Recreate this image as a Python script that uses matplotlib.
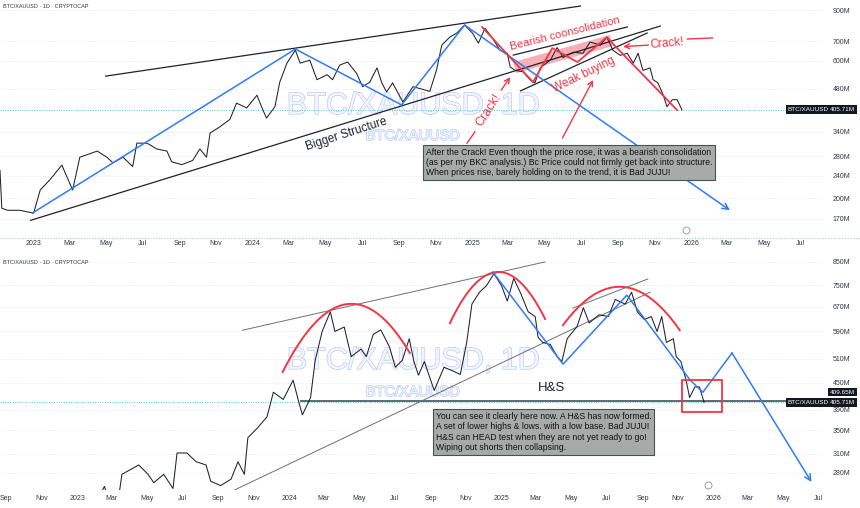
import matplotlib
matplotlib.use("Agg")
import matplotlib.pyplot as plt
import matplotlib.dates as mdates
import matplotlib.patheffects as pe
from matplotlib.patches import Polygon, Rectangle
from matplotlib.lines import Line2D
from matplotlib.ticker import FixedLocator, FixedFormatter, NullLocator
import numpy as np
import pandas as pd

# ---------------- data ----------------
dates = ["2022-11-06", "2022-11-09", "2022-11-19", "2022-12-09", "2023-01-01", "2023-01-12",
         "2023-01-28", "2023-02-17", "2023-03-07", "2023-03-19", "2023-04-17", "2023-05-03",
         "2023-05-13", "2023-05-30", "2023-06-15", "2023-06-22", "2023-07-09", "2023-07-25",
         "2023-08-11", "2023-08-19", "2023-09-05", "2023-09-23", "2023-10-05", "2023-10-16",
         "2023-10-22", "2023-11-07", "2023-11-24", "2023-12-05", "2023-12-22", "2024-01-08",
         "2024-01-18", "2024-01-24", "2024-02-07", "2024-02-15", "2024-02-27", "2024-03-12",
         "2024-03-20", "2024-04-05", "2024-04-17", "2024-05-04", "2024-05-13", "2024-05-25",
         "2024-06-07", "2024-06-22", "2024-07-02", "2024-07-14", "2024-07-26", "2024-08-03",
         "2024-08-11", "2024-08-21", "2024-09-07", "2024-09-24", "2024-10-10", "2024-10-22",
         "2024-11-02", "2024-11-11", "2024-11-24", "2024-12-06", "2024-12-19", "2025-01-01",
         "2025-01-11", "2025-01-22", "2025-02-03", "2025-02-16", "2025-02-28", "2025-03-05",
         "2025-03-13", "2025-03-26", "2025-04-07", "2025-04-15", "2025-04-24", "2025-05-11",
         "2025-05-22", "2025-06-01", "2025-06-18", "2025-07-04", "2025-07-16", "2025-08-02",
         "2025-08-13", "2025-08-23", "2025-09-04", "2025-09-16", "2025-09-26", "2025-10-04",
         "2025-10-12", "2025-10-24", "2025-10-29", "2025-11-06", "2025-11-15", "2025-11-21",
         "2025-11-30", "2025-12-08", "2025-12-16"]
prices = [250, 185, 182, 182, 178, 214, 232, 261, 214, 278, 292, 278, 266, 278, 258, 311,
          311, 297, 292, 268, 262, 271, 297, 278, 337, 354, 376, 428, 412, 456, 405, 380,
          416, 506, 589, 653, 589, 603, 516, 537, 516, 580, 594, 543, 488, 506, 567, 503,
          468, 503, 432, 488, 478, 470, 556, 680, 724, 749, 798, 749, 691, 778, 720, 653,
          637, 571, 556, 550, 516, 503, 567, 604, 667, 616, 643, 637, 697, 680, 724, 653,
          627, 637, 589, 637, 556, 567, 516, 503, 456, 416, 440, 440, 405.71]
last_price = 405.71
neckline = 409.65

top_yticks = [170, 200, 240, 280, 340, 480, 600, 700, 900]
bot_yticks = [280, 310, 350, 390, 450, 510, 590, 670, 750, 850]
top_xticks = pd.date_range("2023-01-01", "2026-07-01", freq="2MS")
bot_xticks = pd.date_range("2022-09-01", "2026-07-01", freq="2MS")

symbol = "BTC/XAUUSD"
title = "BTC/XAUUSD · 1D · CRYPTOCAP"
note_top = ("After the Crack! Even though the price rose, it was a bearish consolidation\n"
            "(as per my BKC analysis.) Bc Price could not firmly get back into structure.\n"
            "When prices rise, barely holding on to the trend, it is Bad JUJU!")
note_bot = ("You can see it clearly here now. A H&S has now formed.\n"
            "A set of lower highs & lows. with a low base. Bad JUJU!\n"
            "H&S can HEAD test when they are not yet ready to go!\n"
            "Wiping out shorts then collapsing.")

# ---------------- style ----------------
plt.rcParams["font.family"] = ["Liberation Sans Narrow", "Liberation Sans", "DejaVu Sans"]
RED = "#f23645"
BLUE = "#2f7cf6"
INK = "#1e222d"
WM = "#bccaf6"
W, H = 860, 508


def D(s):
    return mdates.date2num(pd.Timestamp(s))


def tick_label(d):
    return str(d.year) if d.month == 1 else d.strftime("%b")


fig = plt.figure(figsize=(8.6, 5.08), dpi=100)
fig.patch.set_facecolor("white")
ax1 = fig.add_axes([0, (H - 238) / H, 826 / W, 238 / H])
ax2 = fig.add_axes([0, (H - 490) / H, 826 / W, 236 / H])


def style(ax, xlim, ylim, yticks, xticks, xpad):
    ax.set_yscale("log")
    ax.set_xlim(D(xlim[0]), D(xlim[1]))
    ax.set_ylim(*ylim)
    ax.yaxis.tick_right()
    ax.yaxis.set_major_locator(FixedLocator(yticks))
    ax.yaxis.set_major_formatter(FixedFormatter([f"{v}M" for v in yticks]))
    ax.yaxis.set_minor_locator(NullLocator())
    ax.set_xticks([mdates.date2num(d) for d in xticks])
    ax.set_xticklabels([tick_label(d) for d in xticks])
    ax.tick_params(axis="both", length=0, labelsize=5, labelcolor="#333844")
    ax.tick_params(axis="y", pad=5)
    ax.tick_params(axis="x", pad=xpad)
    for s in ax.spines.values():
        s.set_visible(False)
    ax.grid(axis="y", color="#dde2ea", lw=0.6, ls=(0, (1, 2)))
    ax.set_facecolor("white")


style(ax1, ("2022-11-06", "2026-08-13"), (145.9, 974.8), top_yticks, top_xticks, 1.5)
style(ax2, ("2022-08-21", "2026-07-14"), (256, 885), bot_yticks, bot_xticks, 3.5)

xd = [D(d) for d in dates]


def line(ax, pts, **kw):
    ax.plot([D(p[0]) for p in pts], [p[1] for p in pts], **kw)


def arrow(ax, tail, head, color, lw=1.0, ms=9):
    ax.annotate("", xy=(D(head[0]), head[1]), xytext=(D(tail[0]), tail[1]),
                arrowprops=dict(arrowstyle="->", color=color, lw=lw, mutation_scale=ms,
                                shrinkA=0, shrinkB=0), annotation_clip=False)


def arc(ax, pts, **kw):
    x = np.array([D(p[0]) for p in pts])
    y = np.log([p[1] for p in pts])
    c = np.polyfit(x, y, 2)
    xs = np.linspace(x[0], x[-1], 80)
    ax.plot(xs, np.exp(np.polyval(c, xs)), **kw)


def watermark(ax, yb, ys):
    stroke = [pe.withStroke(linewidth=1.0, foreground=WM)]
    ax.text(0.5, yb, f"{symbol}, 1D", transform=ax.transAxes, ha="center", va="center",
            fontsize=22, color="#f3f5fd", path_effects=stroke, zorder=0)
    ax.text(0.5, ys, symbol, transform=ax.transAxes, ha="center", va="center",
            fontsize=10.5, color="#f3f5fd", path_effects=stroke, zorder=0)


def tag(ax, yfrac, text, x0, fc="#131722"):
    ax.text(x0, yfrac, text, transform=ax.transAxes, ha="left", va="center", fontsize=4.6,
            color="white", bbox=dict(boxstyle="square,pad=0.3", fc=fc, ec="none"),
            clip_on=False, zorder=20)


# ================= TOP PANEL =================
watermark(ax1, 0.555, 0.429)
ax1.axhline(last_price, color="#56c4d6", lw=0.7, ls=(0, (1, 1.5)), zorder=1)

# pink consolidation band
band = [("2025-03-10", 594), ("2025-08-18", 737), ("2025-08-23", 675), ("2025-03-15", 544)]
ax1.add_patch(Polygon([(D(d), v) for d, v in band], closed=True, fc="#f6a0a8",
                      ec="none", alpha=0.85, zorder=1))

# trend lines
line(ax1, [("2023-05-01", 531), ("2025-06-30", 929)], color=INK, lw=0.9, zorder=2)
line(ax1, [("2022-12-27", 168), ("2025-11-10", 792)], color=INK, lw=0.9, zorder=2)
line(ax1, [("2025-03-10", 628), ("2025-09-16", 786)], color=INK, lw=0.9, zorder=2)
line(ax1, [("2025-03-22", 472), ("2025-10-19", 749)], color=INK, lw=0.9, zorder=2)

# price
ax1.plot(xd, prices, color=INK, lw=0.75, zorder=3)

# blue zig-zag
line(ax1, [("2022-12-30", 178), ("2024-03-12", 659), ("2024-09-05", 422), ("2024-12-19", 798)],
     color=BLUE, lw=1.1, zorder=4)
arrow(ax1, ("2024-12-19", 798), ("2026-03-06", 182), BLUE, lw=1.1, ms=11)

# red path
line(ax1, [("2025-01-17", 786), ("2025-04-12", 506), ("2025-05-14", 664), ("2025-06-25", 594),
           ("2025-08-13", 725), ("2025-08-22", 691), ("2025-12-08", 405)],
     color=RED, lw=1.3, zorder=4)

ax1.text(D("2025-06-04"), 749, "Bearish coonsolidation", rotation=14, rotation_mode="anchor",
         ha="center", va="center", color=RED, fontsize=8, zorder=6)
ax1.text(D("2025-07-06"), 535, "Weak buying", rotation=26, rotation_mode="anchor",
         ha="center", va="center", color=RED, fontsize=8.5, zorder=6)
ax1.text(D("2025-11-21"), 691, "Crack!", rotation=5, rotation_mode="anchor",
         ha="center", va="center", color=RED, fontsize=8.5, zorder=6)
arrow(ax1, ("2025-10-21", 680), ("2025-09-09", 672), RED, lw=1.0)
line(ax1, [("2025-12-25", 714), ("2026-02-05", 720)], color=RED, lw=1.0)

line(ax1, [("2024-12-23", 311), ("2025-01-05", 340)], color=RED, lw=1.0)
ax1.text(D("2025-01-28"), 405, "Crack!", rotation=57, rotation_mode="anchor",
         ha="center", va="center", color=RED, fontsize=9, zorder=6)
arrow(ax1, ("2025-02-18", 475), ("2025-03-05", 527), RED, lw=1.0)
arrow(ax1, ("2025-05-31", 324), ("2025-07-21", 515), RED, lw=1.0)

ax1.text(D("2024-06-05"), 334, "Bigger Structure", rotation=18, rotation_mode="anchor",
         ha="center", va="center", color=INK, fontsize=8.5, zorder=6)

ax1.text(426 / 826, (238 - 148) / 238, note_top, transform=ax1.transAxes, ha="left", va="top",
         fontsize=6.2, linespacing=1.15, color="#111111", zorder=8,
         bbox=dict(boxstyle="square,pad=0.3", fc="#a6abaa", ec="#4a4f52", lw=0.8))

tag(ax1, (238 - 109.5) / 238, symbol, 788 / 826)
tag(ax1, (238 - 109.5) / 238, f"{last_price}M", 830 / 826)
ax1.plot([686 / 826], [(238 - 230) / 238], marker="o", ms=5, mfc="white", mec="#9aa0aa",
         mew=0.7, transform=ax1.transAxes, clip_on=False, zorder=9)

# ================= BOTTOM PANEL =================
watermark(ax2, 0.547, 0.415)
ax2.axhline(last_price, color="#56c4d6", lw=0.7, ls=(0, (1, 1.5)), zorder=1)
ax2.hlines(neckline, D("2024-01-19"), ax2.get_xlim()[1], color="#3a3f47", lw=1.1, zorder=2)

line(ax2, [("2023-10-13", 593), ("2025-03-17", 849)], color="#6b7079", lw=0.7, zorder=2)
line(ax2, [("2023-09-29", 256), ("2025-09-14", 724)], color="#6b7079", lw=0.7, zorder=2)
line(ax2, [("2025-05-04", 666), ("2025-09-10", 776)], color="#6b7079", lw=0.7, zorder=2)

ax2.plot(xd, prices, color=INK, lw=0.75, zorder=3)

arc(ax2, [("2023-12-21", 476), ("2024-03-16", 663), ("2024-07-27", 526)], color=RED, lw=1.4, zorder=4)
arc(ax2, [("2024-10-04", 615), ("2024-12-24", 805), ("2025-03-17", 629)], color=RED, lw=1.4, zorder=4)
arc(ax2, [("2025-04-17", 609), ("2025-08-10", 740), ("2025-11-04", 593)], color=RED, lw=1.4, zorder=4)

line(ax2, [("2024-12-17", 805), ("2025-04-17", 496), ("2025-08-05", 713), ("2025-11-22", 456),
           ("2025-12-14", 428), ("2026-02-02", 526)], color=BLUE, lw=1.1, zorder=4)
arrow(ax2, ("2026-02-02", 526), ("2026-06-19", 267), BLUE, lw=1.1, ms=11)

ax2.add_patch(Rectangle((D("2025-11-08"), 385), D("2026-01-16") - D("2025-11-08"), 456 - 385,
                        fill=False, ec=RED, lw=1.3, joinstyle="round", zorder=5))

ax2.text(D("2025-03-29"), 437, "H&S", ha="center", va="center", color=INK, fontsize=9.5, zorder=6)

ax2.text(436 / 826, (490 - 412) / 236, note_bot, transform=ax2.transAxes, ha="left", va="top",
         fontsize=6.2, linespacing=1.2, color="#111111", zorder=8,
         bbox=dict(boxstyle="square,pad=0.3", fc="#a6abaa", ec="#4a4f52", lw=0.8))

tag(ax2, (490 - 392) / 236, f"{neckline}M", 830 / 826)
tag(ax2, (490 - 402.7) / 236, symbol, 788 / 826)
tag(ax2, (490 - 402.7) / 236, f"{last_price}M", 830 / 826)
ax2.plot([708 / 826], [(490 - 485) / 236], marker="o", ms=5, mfc="white", mec="#9aa0aa",
         mew=0.7, transform=ax2.transAxes, clip_on=False, zorder=9)

# titles and pane separator
fig.text(3 / W, 1 - 7 / H, title, fontsize=4, color="#333844", va="center", ha="left")
fig.text(3 / W, 1 - 263 / H, title, fontsize=4, color="#333844", va="center", ha="left")
fig.add_artist(Line2D([0, 1], [(H - 238) / H] * 2, transform=fig.transFigure,
                      color="#8fd6e3", lw=0.8, ls=(0, (1, 1.5))))

fig.savefig("out.png", dpi=100, facecolor="white")
